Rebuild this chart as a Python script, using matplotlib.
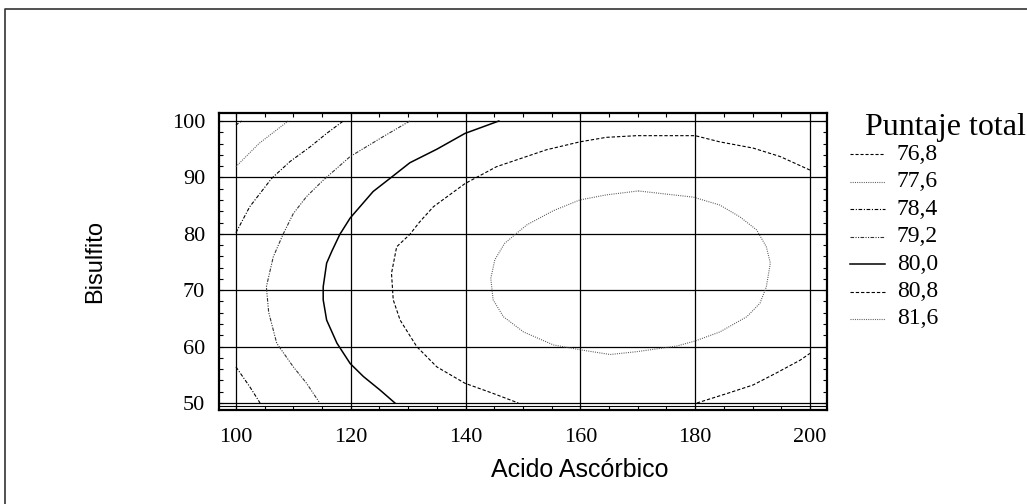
import matplotlib
matplotlib.use("Agg")
import matplotlib.pyplot as plt
from matplotlib.lines import Line2D
from matplotlib.ticker import MultipleLocator

# contour levels of "Puntaje total" and the lines
LEVELS = ['76,8', '77,6', '78,4', '79,2', '80,0', '80,8', '81,6']

C768_X = [100.0, 101.0]
C768_Y = [99.3, 100.0]

C776_X = [100.0, 104.0, 109.1]
C776_Y = [91.9, 96.0, 100.0]

C784_TOP_X = [100.0, 102.4, 106.2, 109.4, 112.9, 115.8, 118.7]
C784_TOP_Y = [80.2, 84.8, 89.8, 92.8, 95.4, 97.8, 100.0]
C784_BOT_X = [100.0, 102.4, 104.2]
C784_BOT_Y = [56.4, 52.9, 50.0]

C792_X = [130.3, 125.6, 119.9, 115.2, 112.3, 110.0, 108.2, 106.5, 105.3,
          105.7, 107.1, 110.0, 112.3, 114.6]
C792_Y = [100.0, 97.2, 93.7, 89.5, 86.6, 83.6, 79.9, 75.9, 70.6,
          66.1, 60.6, 56.4, 53.5, 50.0]

C800_X = [145.8, 139.9, 135.0, 130.3, 126.8, 123.9, 121.6, 119.9, 118.1,
          116.7, 115.8, 115.2, 115.2, 115.8, 117.6, 119.9, 122.2, 125.1, 127.7]
C800_Y = [100.0, 97.8, 95.0, 92.6, 89.8, 87.5, 84.8, 82.8, 79.9,
          76.9, 74.8, 70.6, 68.3, 64.7, 60.6, 57.0, 54.7, 52.3, 50.0]

C808_A_X = [200.0, 194.8, 190.1, 184.3, 180.0, 169.8, 164.5, 159.9, 154.1,
            145.4, 139.9, 134.4, 132.0, 130.3, 128.0, 127.1, 127.4, 128.6,
            131.5, 135.0, 139.9, 144.8, 149.2]
C808_A_Y = [91.3, 93.7, 95.2, 96.3, 97.4, 97.4, 97.1, 96.3, 94.9,
            91.9, 88.9, 84.8, 82.1, 79.9, 77.7, 73.0, 68.3, 64.7,
            60.0, 56.4, 53.5, 51.7, 50.0]
C808_B_X = [180.3, 185.6, 190.1, 194.1, 198.3, 200.0]
C808_B_Y = [50.0, 51.7, 53.2, 55.3, 57.6, 58.8]

C816_X = [170.1, 179.7, 184.3, 187.8, 190.7, 192.4, 193.1, 192.4, 191.3,
          189.0, 184.3, 180.0, 176.8, 169.8, 165.2, 160.2, 155.3, 150.1,
          146.6, 144.8, 144.4, 145.1, 146.8, 148.9, 150.7, 155.3, 159.9,
          164.5, 170.1]
C816_Y = [87.6, 86.5, 85.1, 83.0, 80.7, 77.7, 74.8, 70.6, 67.7,
          65.3, 62.6, 61.0, 60.1, 59.1, 58.6, 59.4, 60.3, 62.6,
          65.3, 68.3, 72.1, 75.4, 78.3, 80.1, 81.6, 84.1, 86.0,
          86.9, 87.6]

plt.rcParams['lines.scale_dashes'] = False
SERIF = ['Liberation Serif', 'DejaVu Serif']
SANS = ['Liberation Sans', 'DejaVu Sans']

# line style for each level (same order as LEVELS)
STYLES = [
    dict(color='black', lw=0.8, dashes=(2.2, 1.4)),
    dict(color='#555555', lw=0.8, dashes=(0.7, 0.9)),
    dict(color='black', lw=0.8, dashes=(2.6, 1.2, 0.8, 1.2)),
    dict(color='#333333', lw=0.8, dashes=(2.6, 1.0, 0.8, 1.0, 0.8, 1.0)),
    dict(color='black', lw=1.1),
    dict(color='black', lw=0.8, dashes=(2.4, 1.4)),
    dict(color='#555555', lw=0.8, dashes=(0.7, 0.9)),
]

lines = [
    (0, C768_X, C768_Y),
    (1, C776_X, C776_Y),
    (2, C784_TOP_X, C784_TOP_Y),
    (2, C784_BOT_X, C784_BOT_Y),
    (3, C792_X, C792_Y),
    (4, C800_X, C800_Y),
    (5, C808_A_X, C808_A_Y),
    (5, C808_B_X, C808_B_Y),
    (6, C816_X, C816_Y),
]

fig = plt.figure(figsize=(10.27, 5.04), dpi=100)
ax = fig.add_axes([0.2132, 0.1865, 0.5920, 0.5893])

for i, xs, ys in lines:
    ax.plot(xs, ys, **STYLES[i])

ax.set_xlim(97.04, 202.96)
ax.set_ylim(48.76, 101.42)

ax.xaxis.set_major_locator(MultipleLocator(20))
ax.yaxis.set_major_locator(MultipleLocator(10))
ax.xaxis.set_minor_locator(MultipleLocator(5))
ax.yaxis.set_minor_locator(MultipleLocator(2))
ax.grid(True, which='major', color='black', lw=0.9)
ax.axhline(49.5, color='black', lw=0.8)
ax.tick_params(which='both', direction='in', top=True, right=True,
               length=3, width=0.8, color='black')
ax.tick_params(axis='x', which='major', pad=13)
ax.tick_params(axis='y', which='major', pad=10)
for lab in ax.get_xticklabels() + ax.get_yticklabels():
    lab.set_family(SERIF)
    lab.set_fontsize(16)
for sp in ax.spines.values():
    sp.set_linewidth(1.6)

ax.set_xlabel('Acido Ascórbico', family=SANS, fontsize=18)
ax.xaxis.set_label_coords((580 - 219) / 608, -(458 - 410) / 297)
ax.set_ylabel('Bisulfito', family=SANS, fontsize=17)
ax.yaxis.set_label_coords(-(219 - 106) / 608, 0.5)

# legend drawn by hand so the title can sit where it does in the original
fig.text(865 / 1027, 1 - 128 / 504, 'Puntaje total', family=SERIF,
         fontsize=23, va='center', ha='left')
for i, name in enumerate(LEVELS):
    yf = 1 - (154 + i * 27.5) / 504
    fig.add_artist(Line2D([850 / 1027, 885 / 1027], [yf, yf],
                          transform=fig.transFigure, **STYLES[i]))
    fig.text(897 / 1027, yf, name, family=SERIF, fontsize=17,
             va='center', ha='left')

# outer frame (only top and left edges show)
fig.add_artist(Line2D([5 / 1027, 5 / 1027, 1.0], [0.0, 1 - 9 / 504, 1 - 9 / 504],
                      transform=fig.transFigure, color='#333333', lw=1.2))

fig.savefig('out.png', dpi=100)
